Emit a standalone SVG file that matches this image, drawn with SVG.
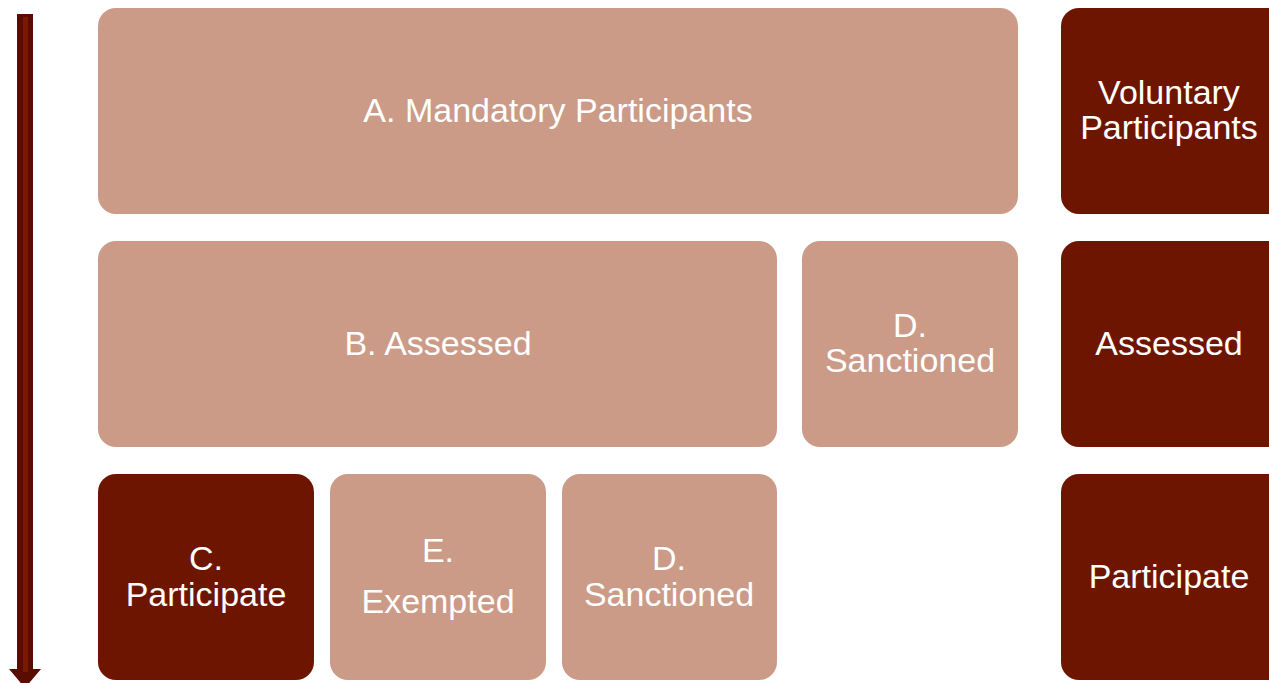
<svg xmlns="http://www.w3.org/2000/svg" width="1269" height="683" viewBox="0 0 1269 683">
<style>
.light{fill:#cb9b87;}
.dark{fill:#6e1500;}
text{font-family:"Liberation Sans",Arial,sans-serif;font-size:34px;fill:#ffffff;text-anchor:middle;}
</style>
<rect width="1269" height="683" fill="#ffffff"/>
<g id="connectors">
<path d="M17,14 H33 V669 H41 L25,688 L9,669 H17 Z" fill="#5a0c00"/>
<rect x="23" y="17" width="5" height="655" fill="#7a1800"/>
</g>
<g id="nodeA"><rect class="light" x="98" y="8" width="920" height="206" rx="18"/><text x="558" y="122">A. Mandatory Participants</text></g>
<g id="nodeVoluntary"><rect class="dark" x="1061" y="8" width="230" height="206" rx="18"/><text x="1169" y="104">Voluntary</text><text x="1169" y="139">Participants</text></g>
<g id="nodeB"><rect class="light" x="98" y="241" width="679" height="206" rx="18"/><text x="438" y="355">B. Assessed</text></g>
<g id="nodeD1"><rect class="light" x="802" y="241" width="216" height="206" rx="18"/><text x="910" y="337">D.</text><text x="910" y="372">Sanctioned</text></g>
<g id="nodeAssessed"><rect class="dark" x="1061" y="241" width="230" height="206" rx="18"/><text x="1169" y="355">Assessed</text></g>
<g id="nodeC"><rect class="dark" x="98" y="474" width="216" height="206" rx="18"/><text x="206" y="570">C.</text><text x="206" y="606">Participate</text></g>
<g id="nodeE"><rect class="light" x="330" y="474" width="216" height="206" rx="18"/><text x="438" y="562">E.</text><text x="438" y="613">Exempted</text></g>
<g id="nodeD2"><rect class="light" x="562" y="474" width="215" height="206" rx="18"/><text x="669" y="570">D.</text><text x="669" y="606">Sanctioned</text></g>
<g id="nodeParticipate"><rect class="dark" x="1061" y="474" width="230" height="206" rx="18"/><text x="1169" y="588">Participate</text></g>
</svg>
